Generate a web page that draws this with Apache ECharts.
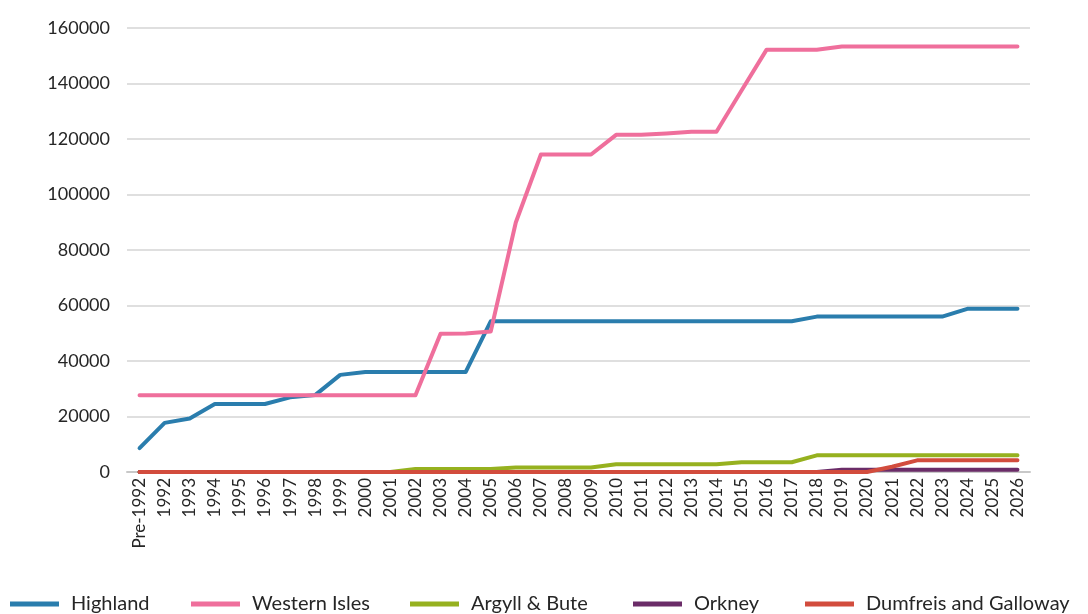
<!DOCTYPE html>
<html>
<head>
<meta charset="utf-8">
<script src="https://cdn.jsdelivr.net/npm/echarts@6/dist/echarts.min.js"></script>
<style>
  html, body { margin: 0; padding: 0; background: #ffffff; }
  #chart { width: 1088px; height: 614px; }
</style>
</head>
<body>
<div id="chart"></div>
<script>
// Year categories
const years = ['Pre-1992', '1992', '1993', '1994', '1995', '1996', '1997', '1998', '1999', '2000',
  '2001', '2002', '2003', '2004', '2005', '2006', '2007', '2008', '2009', '2010',
  '2011', '2012', '2013', '2014', '2015', '2016', '2017', '2018', '2019', '2020',
  '2021', '2022', '2023', '2024', '2025', '2026'];

// Cumulative values per council area
const highland = [8600, 17700, 19300, 24500, 24500, 24500, 26900, 27700, 35000, 36000,
  36000, 36000, 36000, 36000, 54300, 54300, 54300, 54300, 54300, 54300,
  54300, 54300, 54300, 54300, 54300, 54300, 54300, 56000, 56000, 56000,
  56000, 56000, 56000, 58800, 58800, 58800];
const westernIsles = [27700, 27700, 27700, 27700, 27700, 27700, 27700, 27700, 27700, 27700,
  27700, 27700, 49800, 49900, 50600, 89900, 114400, 114400, 114400, 121500,
  121500, 122000, 122600, 122600, 137500, 152200, 152200, 152200, 153300, 153300,
  153300, 153300, 153300, 153300, 153300, 153300];
const argyllBute = [0, 0, 0, 0, 0, 0, 0, 0, 0, 0,
  0, 1100, 1100, 1100, 1100, 1600, 1600, 1600, 1600, 2800,
  2800, 2800, 2800, 2800, 3500, 3500, 3500, 6000, 6000, 6000,
  6000, 6000, 6000, 6000, 6000, 6000];
const orkney = [0, 0, 0, 0, 0, 0, 0, 0, 0, 0,
  0, 0, 0, 0, 0, 0, 0, 0, 0, 0,
  0, 0, 0, 0, 0, 0, 0, 0, 800, 800,
  800, 800, 800, 800, 800, 800];
const dumfries = [0, 0, 0, 0, 0, 0, 0, 0, 0, 0,
  0, 0, 0, 0, 0, 0, 0, 0, 0, 0,
  0, 0, 0, 0, 0, 0, 0, 0, 0, 0,
  1900, 4200, 4200, 4200, 4200, 4200];

const seriesNames = ['Highland', 'Western Isles', 'Argyll & Bute', 'Orkney', 'Dumfreis and Galloway'];
const seriesData = [highland, westernIsles, argyllBute, orkney, dumfries];
const seriesColors = ['#2a7dad', '#ef6f9c', '#96b11f', '#6b2c68', '#d24c3d'];

// Left edge of each legend entry along the bottom row
const legendLefts = [10, 191, 410, 633, 805];

const FONT = 'Lato, "Noto Sans", sans-serif';
const chart = echarts.init(document.getElementById('chart'), null, { renderer: 'canvas' });

chart.setOption({
  animation: false,
  backgroundColor: '#ffffff',
  grid: { left: 127, right: 58, top: 28, bottom: 142, containLabel: false },
  legend: seriesNames.map((name, i) => ({
    left: legendLefts[i],
    top: 594,
    padding: 0,
    itemWidth: 49,
    itemHeight: 5,
    icon: 'rect',
    textStyle: { fontFamily: FONT, fontSize: 20, color: '#262626', padding: [0, 0, 0, 7] },
    data: [name]
  })),
  xAxis: {
    type: 'category',
    data: years,
    boundaryGap: true,
    axisLine: { lineStyle: { color: '#c8c8c8', width: 2 } },
    axisTick: { show: false },
    axisLabel: {
      rotate: 90,
      interval: 0,
      margin: 6,
      fontFamily: FONT,
      fontSize: 17,
      color: '#262626'
    }
  },
  yAxis: {
    type: 'value',
    min: 0,
    max: 160000,
    interval: 20000,
    axisLine: { show: false },
    axisTick: { show: false },
    splitLine: { lineStyle: { color: '#d4d4d4', width: 1.5 } },
    axisLabel: {
      margin: 17,
      fontFamily: FONT,
      fontSize: 18,
      color: '#262626',
      formatter: (v) => String(v)
    }
  },
  series: seriesNames.map((name, i) => ({
    name: name,
    type: 'line',
    data: seriesData[i],
    symbol: 'none',
    smooth: false,
    color: seriesColors[i],
    lineStyle: { width: 4, color: seriesColors[i], cap: 'round', join: 'round' },
    z: 2 + i
  }))
});
</script>
</body>
</html>
